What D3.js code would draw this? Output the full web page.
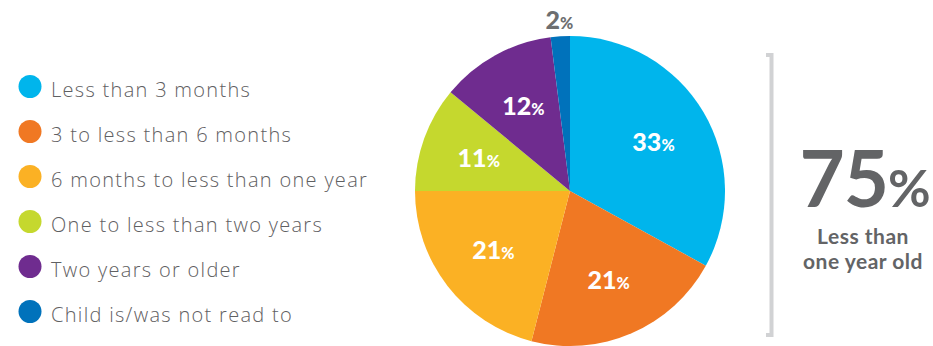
<!DOCTYPE html>
<html>
<head>
<meta charset="utf-8">
<script src="https://cdn.jsdelivr.net/npm/d3@7"></script>
<style>
  body { margin: 0; background: #fff; }
  svg { display: block; font-family: Lato, "Open Sans", sans-serif; }
</style>
</head>
<body>
<div id="chart"></div>
<script>
var categories = [
  "Less than 3 months",
  "3 to less than 6 months",
  "6 months to less than one year",
  "One to less than two years",
  "Two years or older",
  "Child is/was not read to"
];
var values = [33, 21, 21, 11, 12, 2];
var colors = ["#00b5ec", "#f07823", "#fbb124", "#c5d82e", "#6f2c8f", "#0072bb"];
var summaryValue = 75;
var summaryLines = ["Less than", "one year old"];

var width = 933,
    height = 346,
    cx = 570,
    cy = 191,
    radius = 155;

var data = categories.map(function (c, i) {
  return { name: c, value: values[i], color: colors[i] };
});

var svg = d3.select("#chart").append("svg")
    .attr("width", width)
    .attr("height", height);

// legend
var legendY = d3.scaleBand()
    .domain(categories)
    .range([64, 334]);

var legend = svg.append("g")
    .attr("class", "legend")
    .selectAll("g")
    .data(data)
    .enter()
    .append("g")
    .attr("transform", function(d) {
        return "translate(0," + (legendY(d.name) + legendY.bandwidth() / 2) + ")";
    });

legend.append("circle")
    .attr("cx", 30)
    .attr("cy", 0)
    .attr("r", 11.5)
    .style("fill", function(d) { return d.color; });

legend.append("text")
    .attr("x", 51)
    .attr("y", 10)
    .style("font-family", "'Open Sans', sans-serif")
    .style("font-size", "20px")
    .style("font-weight", 300)
    .style("letter-spacing", "1.3px")
    .style("fill", "#5f6062")
    .text(function(d) { return d.name; });

// pie
var pie = d3.pie()
    .sort(null)
    .value(function(d) { return d.value; });

var arc = d3.arc()
    .innerRadius(0)
    .outerRadius(radius);

var labelArc = d3.arc()
    .innerRadius(97)
    .outerRadius(97);

var outerLabelArc = d3.arc()
    .innerRadius(171)
    .outerRadius(171);

var pieG = svg.append("g")
    .attr("transform", "translate(" + cx + "," + cy + ")");

var arcs = pie(data);

pieG.selectAll(".slice")
    .data(arcs)
    .enter()
    .append("path")
    .attr("class", "slice")
    .attr("d", arc)
    .style("fill", function(d) { return d.data.color; });

var labels = pieG.selectAll(".label")
    .data(arcs)
    .enter()
    .append("text")
    .attr("class", "label")
    .attr("transform", function(d) {
        var c = d.data.value < 5 ? outerLabelArc.centroid(d) : labelArc.centroid(d);
        return "translate(" + c + ")";
    })
    .attr("dy", "0.36em")
    .attr("text-anchor", "middle")
    .style("font-size", "25px")
    .style("font-weight", 900)
    .style("fill", function(d) { return d.data.value < 5 ? "#6d6e70" : "#fff"; });

labels.append("tspan")
    .text(function(d) { return d.data.value; });

labels.append("tspan")
    .style("font-size", "16px")
    .text("%");

// bracket
var bracket = svg.append("g")
    .style("stroke", "#d1d2d4")
    .style("stroke-width", 4)
    .style("fill", "none");

bracket.append("path")
    .attr("d", "M766,55H771.5V335H766");

// summary
var summary = svg.append("text")
    .attr("x", 865)
    .attr("y", 207)
    .attr("text-anchor", "middle")
    .style("fill", "#636466")
    .style("font-weight", 700);

summary.append("tspan")
    .style("font-size", "78px")
    .style("letter-spacing", "-1px")
    .text(summaryValue);

summary.append("tspan")
    .style("font-size", "52px")
    .text("%");

svg.selectAll(".summary-line")
    .data(summaryLines)
    .enter()
    .append("text")
    .attr("class", "summary-line")
    .attr("x", 863)
    .attr("y", function(d, i) { return 244 + i * 25; })
    .attr("text-anchor", "middle")
    .style("fill", "#636466")
    .style("font-size", "21px")
    .style("font-weight", 700)
    .style("letter-spacing", "0.5px")
    .text(function(d) { return d; });
</script>
</body>
</html>
